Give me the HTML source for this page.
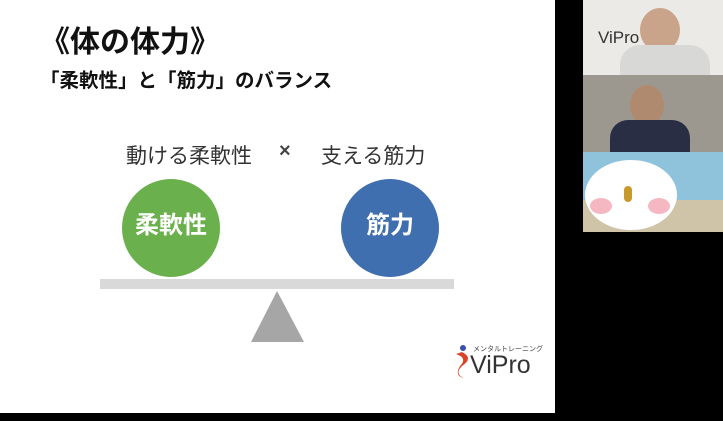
<!DOCTYPE html>
<html><head><meta charset="utf-8"><style>
body{margin:0;width:723px;height:421px;background:#000;position:relative;overflow:hidden;font-family:"Liberation Sans","Noto Sans CJK JP",sans-serif}
.a{position:absolute}
</style></head><body>
<div class="a" style="left:0;top:0;width:555px;height:413px;background:#fff"></div>
<div class="a" style="left:40px;top:17px;font-size:30px;font-weight:bold;color:#111;white-space:nowrap">《体の体力》</div>
<div class="a" style="left:40px;top:64px;font-size:19.5px;font-weight:bold;color:#111;white-space:nowrap">「柔軟性」と「筋力」のバランス</div>
<div class="a" style="left:126px;top:140px;font-size:21px;color:#333;white-space:nowrap">動ける柔軟性</div>
<div class="a" style="left:279px;top:140px;font-size:20px;color:#444;font-weight:bold">×</div>
<div class="a" style="left:321px;top:140px;font-size:21px;color:#333;white-space:nowrap">支える筋力</div>
<div class="a" style="left:122px;top:179px;width:98px;height:98px;border-radius:50%;background:#6ab04c;color:#fff;font-size:24px;font-weight:bold;text-align:center;line-height:94px">柔軟性</div>
<div class="a" style="left:341px;top:179px;width:98px;height:98px;border-radius:50%;background:#3f6fae;color:#fff;font-size:24px;font-weight:bold;text-align:center;line-height:94px">筋力</div>
<div class="a" style="left:100px;top:279px;width:354px;height:10px;background:#d9d9d9"></div>
<svg class="a" style="left:0;top:0" width="555" height="413"><polygon points="277,291 251,342 304,342" fill="#a6a6a6"/>
<path d="M462 352 q12 6 0 14 q-8 8 2 12 q-10 -2 -4 -12 q8 -8 -4 -12z" fill="#d9432a"/><circle cx="463" cy="348" r="3" fill="#3a4fb0"/></svg>
<div class="a" style="left:473px;top:344px;font-size:7px;color:#444;white-space:nowrap">メンタルトレーニング</div>
<div class="a" style="left:470px;top:351px;font-size:25px;color:#333;white-space:nowrap">ViPro</div>
<div class="a" style="left:583px;top:0;width:140px;height:75px;background:#eceae6"></div>
<div class="a" style="left:640px;top:8px;width:40px;height:44px;border-radius:50%;background:#c9a48a"></div>
<div class="a" style="left:620px;top:45px;width:90px;height:30px;border-radius:20px 20px 0 0;background:#d8d8d6"></div>
<div class="a" style="left:598px;top:28px;font-size:17px;color:#333">ViPro</div>
<div class="a" style="left:583px;top:75px;width:140px;height:77px;background:#9c9890"></div>
<div class="a" style="left:630px;top:85px;width:34px;height:40px;border-radius:50%;background:#b08a6e"></div>
<div class="a" style="left:610px;top:120px;width:80px;height:32px;border-radius:18px 18px 0 0;background:#2a2e45"></div>
<div class="a" style="left:583px;top:152px;width:140px;height:80px;background:#8fc3dc"></div>
<div class="a" style="left:583px;top:200px;width:140px;height:32px;background:#cfc4a8"></div>
<div class="a" style="left:585px;top:160px;width:92px;height:70px;border-radius:50%;background:#fff"></div>
<div class="a" style="left:590px;top:198px;width:22px;height:16px;border-radius:50%;background:#f5b8c2"></div>
<div class="a" style="left:648px;top:198px;width:22px;height:16px;border-radius:50%;background:#f5b8c2"></div>
<div class="a" style="left:624px;top:186px;width:8px;height:16px;border-radius:4px;background:#c89a2c"></div>
</body></html>
